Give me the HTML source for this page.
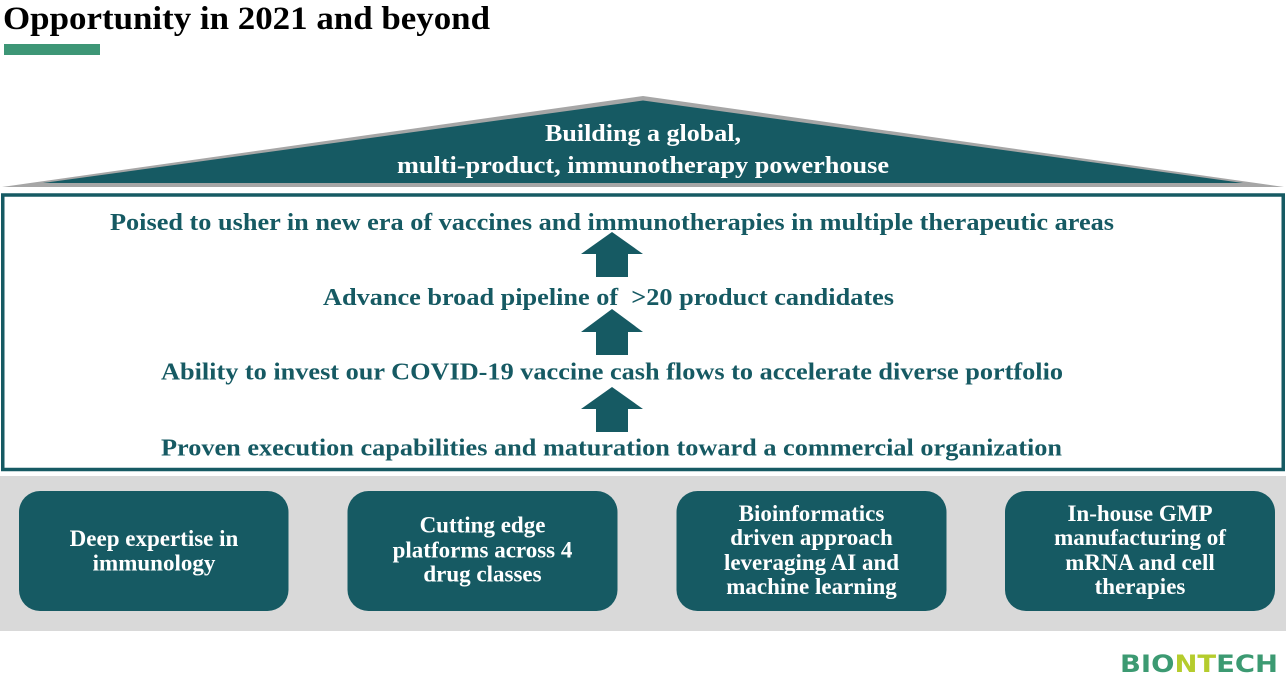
<!DOCTYPE html>
<html>
<head>
<meta charset="utf-8">
<style>
  html, body { margin:0; padding:0; background:#ffffff; }
  body { width:1286px; height:674px; overflow:hidden; }
  svg { display:block; }
  .serif { font-family:"Liberation Serif","Times New Roman",serif; font-weight:bold; }
</style>
</head>
<body>
<svg width="1286" height="674" viewBox="0 0 1286 674" xmlns="http://www.w3.org/2000/svg">
  <!-- Title -->
  <text class="serif" x="3" y="29" font-size="33" fill="#000000" textLength="487" lengthAdjust="spacingAndGlyphs">Opportunity in 2021 and beyond</text>
  <rect x="4" y="44" width="96" height="11" fill="#3d9676"/>

  <!-- Roof -->
  <polygon points="2,187 643,96 1284,187" fill="#a6a6a6"/>
  <polygon points="43,183 643,100.5 1243,183" fill="#165a63"/>
  <text class="serif" x="643" y="141" font-size="24" fill="#ffffff" text-anchor="middle" textLength="196" lengthAdjust="spacingAndGlyphs">Building a global,</text>
  <text class="serif" x="643" y="173" font-size="24" fill="#ffffff" text-anchor="middle" textLength="492" lengthAdjust="spacingAndGlyphs">multi-product, immunotherapy powerhouse</text>

  <!-- Main box -->
  <rect x="2.75" y="195" width="1280.5" height="274.5" fill="#ffffff" stroke="#165a63" stroke-width="3.5"/>

  <text class="serif" x="612" y="230" font-size="24" fill="#165a63" text-anchor="middle" textLength="1004" lengthAdjust="spacingAndGlyphs">Poised to usher in new era of vaccines and immunotherapies in multiple therapeutic areas</text>
  <text class="serif" x="608.5" y="305" font-size="24" fill="#165a63" text-anchor="middle" textLength="571" lengthAdjust="spacingAndGlyphs">Advance broad pipeline of &#160;&gt;20 product candidates</text>
  <text class="serif" x="612" y="379.5" font-size="24" fill="#165a63" text-anchor="middle" textLength="902" lengthAdjust="spacingAndGlyphs">Ability to invest our COVID-19 vaccine cash flows to accelerate diverse portfolio</text>
  <text class="serif" x="611.5" y="455.5" font-size="24" fill="#165a63" text-anchor="middle" textLength="901" lengthAdjust="spacingAndGlyphs">Proven execution capabilities and maturation toward a commercial organization</text>

  <!-- Arrows -->
  <polygon points="612,232 643,254 628,254 628,277 596,277 596,254 581,254" fill="#165a63"/>
  <polygon points="612,309 643,332 628,332 628,355 596,355 596,332 581,332" fill="#165a63"/>
  <polygon points="612,387 643,409 628,409 628,432 596,432 596,409 581,409" fill="#165a63"/>

  <!-- Gray band -->
  <rect x="0" y="476" width="1286" height="155" fill="#d9d9d9"/>

  <!-- Boxes -->
  <rect x="19" y="491" width="269.5" height="120" rx="21" ry="21" fill="#165a63"/>
  <rect x="347.5" y="491" width="270" height="120" rx="21" ry="21" fill="#165a63"/>
  <rect x="676.5" y="491" width="270" height="120" rx="21" ry="21" fill="#165a63"/>
  <rect x="1005" y="491" width="270" height="120" rx="21" ry="21" fill="#165a63"/>

  <g class="serif" font-size="23" fill="#ffffff" text-anchor="middle">
    <text x="154" y="546">Deep expertise in</text>
    <text x="154" y="570.5">immunology</text>

    <text x="482.5" y="532.5">Cutting edge</text>
    <text x="482.5" y="557.5">platforms across 4</text>
    <text x="482.5" y="581.5">drug classes</text>

    <text x="811.5" y="521">Bioinformatics</text>
    <text x="811.5" y="545">driven approach</text>
    <text x="811.5" y="570">leveraging AI and</text>
    <text x="811.5" y="594">machine learning</text>

    <text x="1140" y="521">In-house GMP</text>
    <text x="1140" y="545">manufacturing of</text>
    <text x="1140" y="570">mRNA and cell</text>
    <text x="1140" y="594">therapies</text>
  </g>

  <!-- Logo -->
  <text x="1120" y="672" font-family="'DejaVu Sans', 'Liberation Sans', sans-serif" font-size="24" font-weight="bold" textLength="158" lengthAdjust="spacingAndGlyphs" fill="#3c9a72">BIO<tspan fill="#b5cc2d">NT</tspan>ECH</text>
</svg>
</body>
</html>
